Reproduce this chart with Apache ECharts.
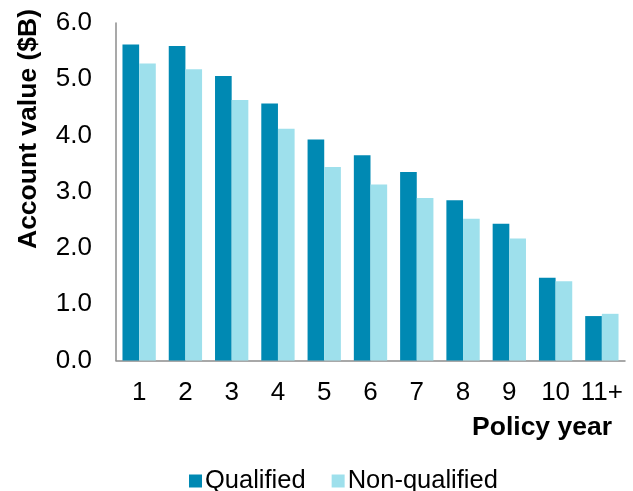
<!DOCTYPE html>
<html>
<head>
<meta charset="utf-8">
<script src="https://cdn.jsdelivr.net/npm/echarts@6/dist/echarts.min.js"></script>
<style>html,body{margin:0;padding:0;background:#fff}#c{width:633px;height:491px}</style>
</head>
<body>
<div id="c"></div>
<script>
var categories = ['1','2','3','4','5','6','7','8','9','10','11+'];
var qualified = [5.62, 5.59, 5.06, 4.57, 3.93, 3.65, 3.35, 2.85, 2.43, 1.47, 0.79];
var nonQualified = [5.28, 5.18, 4.63, 4.12, 3.44, 3.13, 2.89, 2.52, 2.17, 1.41, 0.83];
var yTicks = [0, 1, 2, 3, 4, 5, 6];
var seriesNames = ['Qualified', 'Non-qualified'];
var xAxisTitle = 'Policy year';
var yAxisTitle = 'Account value ($B)';

var FONT = '"Liberation Sans", Arial, sans-serif';
var chart = echarts.init(document.getElementById('c'), null, {renderer: 'canvas'});
chart.setOption({
  animation: false,
  backgroundColor: '#fff',
  grid: {left: 116, right: 8, top: 23, bottom: 130.5, containLabel: false},
  legend: {
    data: seriesNames,
    left: 184, top: 463,
    itemWidth: 13, itemHeight: 13, itemGap: 26,
    icon: 'rect',
    textStyle: {fontFamily: FONT, fontSize: 25.5, color: '#000', padding: [0,0,0,-2]}
  },
  xAxis: {
    type: 'category',
    data: categories,
    name: xAxisTitle,
    nameLocation: 'end',
    nameGap: -13,
    nameTextStyle: {fontFamily: FONT, fontSize: 26.5, fontWeight: 'bold', color: '#000', align: 'right', verticalAlign: 'top', padding: [54, 0, 0, 0]},
    axisLine: {show: true, lineStyle: {color: '#8c8c8c', width: 1.5}},
    axisTick: {show: false},
    axisLabel: {interval: 0, fontFamily: FONT, fontSize: 26, color: '#000', margin: 19},
    splitLine: {show: false}
  },
  yAxis: {
    type: 'value',
    min: yTicks[0], max: yTicks[yTicks.length - 1], interval: 1,
    axisLine: {show: true, lineStyle: {color: '#8c8c8c', width: 1.5}},
    axisTick: {show: false},
    axisLabel: {fontFamily: FONT, fontSize: 26, color: '#000', margin: 24, formatter: function (v) { return v.toFixed(1); }},
    splitLine: {show: false}
  },
  graphic: [{
    type: 'text', x: 29, y: 129, rotation: Math.PI / 2,
    style: {text: yAxisTitle, font: 'bold 26.5px ' + FONT, fill: '#000', align: 'center', verticalAlign: 'middle'}
  }],
  series: [
    {name: seriesNames[0], type: 'bar', data: qualified, barGap: '0%', barCategoryGap: '28%', itemStyle: {color: '#0089b3'}},
    {name: seriesNames[1], type: 'bar', data: nonQualified, barGap: '0%', barCategoryGap: '28%', itemStyle: {color: '#9ee0ec'}}
  ]
});
</script>
</body>
</html>
